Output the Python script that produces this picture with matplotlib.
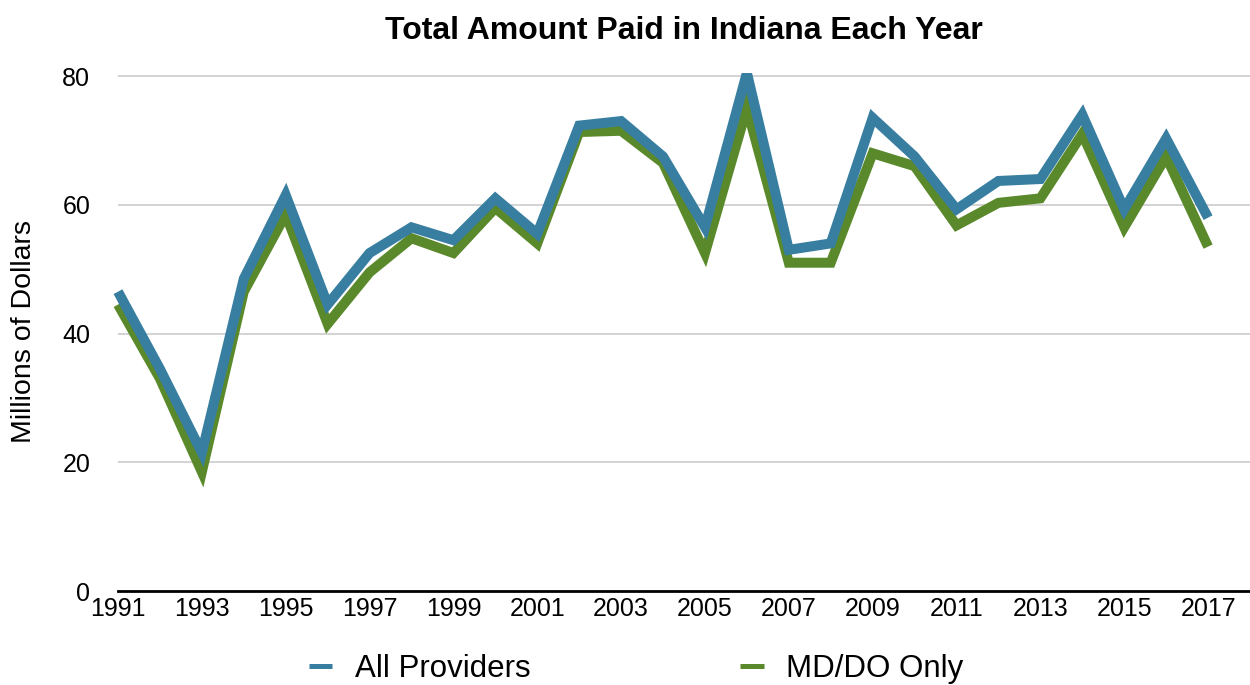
import matplotlib
matplotlib.use("Agg")
import matplotlib.pyplot as plt
import matplotlib.patches as patches

plt.rcParams["font.family"] = ["Liberation Sans", "DejaVu Sans"]

years = list(range(1991, 2018))
all_providers = [46.5, 34.5, 21.5, 48.5, 61.5, 44.5, 52.5, 56.5, 54.5, 61.0,
                 55.5, 72.3, 73.0, 67.5, 56.5, 80.5, 53.0, 54.0, 73.5, 67.5,
                 59.3, 63.7, 64.0, 74.0, 59.3, 70.3, 58.0]
md_do_only = [44.5, 33.0, 18.5, 46.5, 58.5, 41.5, 49.5, 54.8, 52.5, 59.5,
              54.0, 71.3, 71.5, 66.5, 52.5, 75.0, 51.0, 51.0, 68.0, 66.0,
              56.8, 60.3, 61.0, 71.0, 56.5, 67.5, 53.5]
xticks = list(range(1991, 2018, 2))
yticks = [0, 20, 40, 60, 80]

blue = "#377ea1"
green = "#5a892b"

fig = plt.figure(figsize=(12.5, 6.85), dpi=100)
ax = fig.add_axes([0.0944, 0.1372, 0.9056, 0.7565])

# a clip box a bit wider than the axes so the line ends are not cut in half
clip = patches.Rectangle((-0.02, -0.1), 1.04, 1.1, transform=ax.transAxes)

l2, = ax.plot(years, md_do_only, color=green, lw=7.2, label="MD/DO Only",
              solid_joinstyle="miter", solid_capstyle="butt", zorder=3)
l1, = ax.plot(years, all_providers, color=blue, lw=7.2, label="All Providers",
              solid_joinstyle="miter", solid_capstyle="butt", zorder=4)
for ln in (l1, l2):
    ln.set_clip_path(clip)

ax.set_xlim(1991, 2018)
ax.set_ylim(0, 80.5)
ax.set_xticks(xticks)
ax.set_yticks(yticks)
ax.tick_params(axis="both", length=0, labelsize=18)
ax.tick_params(axis="y", pad=20)
ax.tick_params(axis="x", pad=4)

for y in yticks[1:]:
    ax.axhline(y, color="#c8c8c8", lw=1.1, zorder=1)

for s in ("left", "right", "top"):
    ax.spines[s].set_visible(False)
ax.spines["bottom"].set_color("black")
ax.spines["bottom"].set_linewidth(2.0)
ax.spines["bottom"].set_zorder(5)

ax.set_ylabel("Millions of Dollars", fontsize=20.5, labelpad=18)
ax.set_title("Total Amount Paid in Indiana Each Year", fontsize=23,
             fontweight="bold", pad=24)

fig.legend(handles=[l1, l2], loc="center", bbox_to_anchor=(636 / 1250, 0.024),
           ncol=2, frameon=False, fontsize=22.5, handlelength=0.76,
           handletextpad=0.72, columnspacing=6.7, borderaxespad=0)
for h in fig.legends[0].legend_handles:
    h.set_linewidth(3.6)

fig.savefig("out.png", dpi=100)
